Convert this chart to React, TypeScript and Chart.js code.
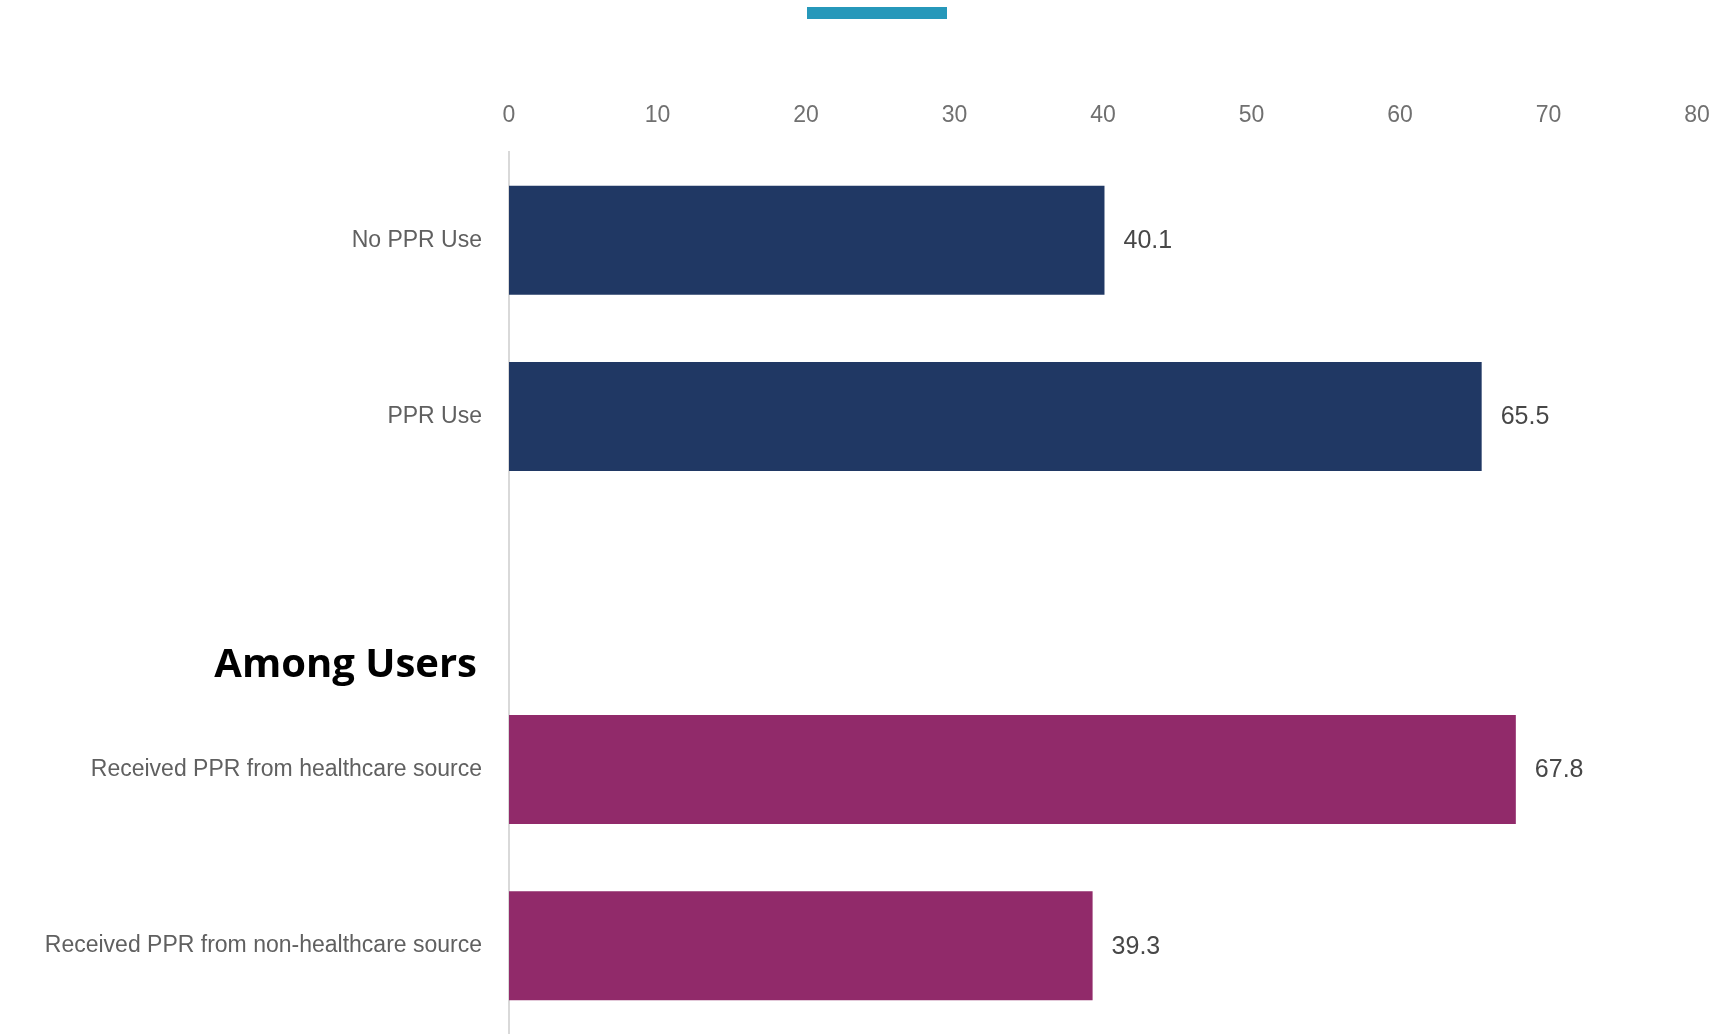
import React, { useEffect, useRef } from "react";
import { Chart, registerables } from "chart.js";

Chart.register(...registerables);

const categories = [
  "No PPR Use",
  "PPR Use",
  "",
  "Received PPR from healthcare source",
  "Received PPR from non-healthcare source",
];
const values: (number | null)[] = [40.1, 65.5, null, 67.8, 39.3];
const barColors = ["#203864", "#203864", "#203864", "#912A6A", "#912A6A"];
const xTicks = [0, 10, 20, 30, 40, 50, 60, 70, 80];
const sectionHeading = "Among Users";

const FONT = "'Liberation Sans', Arial, sans-serif";

const labelPlugin = {
  id: "valueLabels",
  afterDatasetsDraw(chart: any) {
    const ctx = chart.ctx;
    const meta = chart.getDatasetMeta(0);
    ctx.save();
    ctx.font = `25px ${FONT}`;
    ctx.fillStyle = "#474747";
    ctx.textAlign = "left";
    ctx.textBaseline = "middle";
    meta.data.forEach((bar: any, i: number) => {
      const v = values[i];
      if (v == null) return;
      ctx.fillText(v.toFixed(1), bar.x + 19, bar.y + 1);
    });
    // section heading
    const y = chart.scales.y;
    const y2 = y.getPixelForValue(2);
    const y3 = y.getPixelForValue(3);
    const hy = y2 + 0.41 * (y3 - y2);
    ctx.font = `bold 40px 'Open Sans', 'Noto Sans', sans-serif`;
    ctx.fillStyle = "#000000";
    ctx.textAlign = "right";
    ctx.fillText(sectionHeading, chart.chartArea.left - 32, hy);
    ctx.restore();
  },
};

export default function App() {
  const ref = useRef<HTMLCanvasElement | null>(null);
  useEffect(() => {
    if (!ref.current) return;
    const chart = new Chart(ref.current, {
      type: "bar",
      data: {
        labels: categories,
        datasets: [
          {
            data: values,
            backgroundColor: barColors,
            borderWidth: 0,
            categoryPercentage: 1,
            barPercentage: 0.618,
          },
        ],
      },
      options: {
        indexAxis: "y",
        animation: false,
        responsive: false,
        layout: { padding: { left: 0, right: 22, top: 0, bottom: -2 } },
        plugins: { legend: { display: false }, tooltip: { enabled: false } },
        scales: {
          x: {
            position: "top",
            min: 0,
            max: 80,
            afterBuildTicks(scale: any) {
              scale.ticks = xTicks.map((v) => ({ value: v }));
            },
            afterFit(scale: any) {
              scale.height = 152;
              scale.paddingLeft = 0;
              scale.paddingRight = 0;
            },
            grid: { display: false, drawTicks: false },
            border: { display: false },
            ticks: {
              color: "#707070",
              font: { size: 23, family: FONT },
              padding: 23,
            },
          },
          y: {
            afterFit(scale: any) {
              scale.width = 509;
              scale.paddingTop = 0;
              scale.paddingBottom = 0;
            },
            grid: { display: false, drawTicks: false },
            border: { display: true, color: "#d9d9d9", width: 2 },
            ticks: {
              color: "#606060",
              font: { size: 23, family: FONT },
              padding: 27,
            },
          },
        },
      },
      plugins: [labelPlugin],
    });
    return () => chart.destroy();
  }, []);
  return (
    <div style={{ position: "absolute", left: 0, top: 0, width: 1719, height: 1034, background: "#ffffff", overflow: "hidden" }}>
      <div style={{ position: "absolute", left: 807, top: 7, width: 140, height: 12, background: "#2698BA" }} />
      <canvas ref={ref} width={1719} height={1034} style={{ display: "block" }} />
    </div>
  );
}
